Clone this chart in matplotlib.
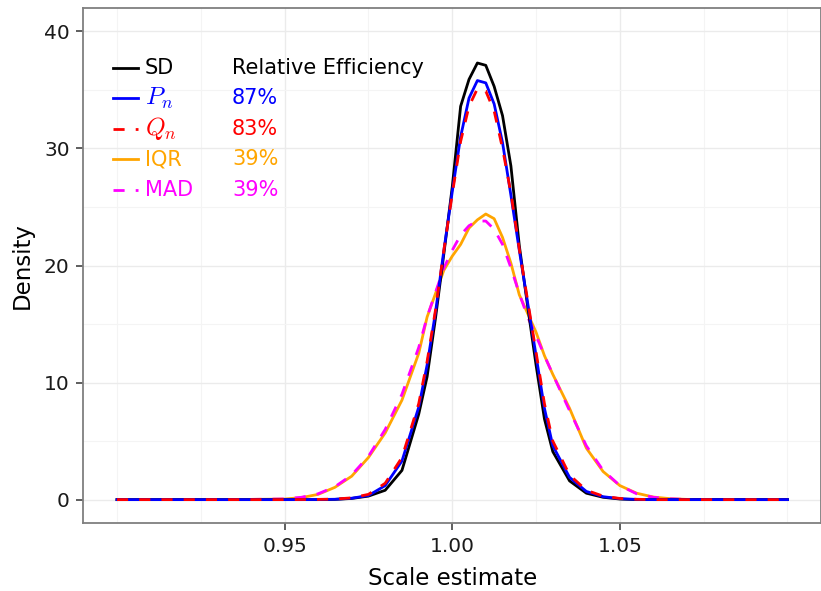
import numpy as np
import matplotlib
matplotlib.use('Agg')
import matplotlib.pyplot as plt
from matplotlib.lines import Line2D

plt.rcParams['font.family'] = ['DejaVu Sans']
plt.rcParams['mathtext.fontset'] = 'cm'

# scale estimate grid and density values
scale = [0.90, 0.94, 0.95, 0.955, 0.96, 0.965, 0.97, 0.975, 0.98, 0.985,
         0.99, 0.9925, 0.995, 0.9975, 1.000, 1.0025, 1.005, 1.0075, 1.010,
         1.0125, 1.015, 1.0175, 1.020, 1.0225, 1.025, 1.0275, 1.030, 1.035,
         1.040, 1.045, 1.050, 1.055, 1.060, 1.065, 1.070, 1.080, 1.10]

sd = [0, 0, 0, 0, 0, 0.02, 0.1, 0.3, 0.8, 2.5,
      7.3, 10.5, 15.5, 21.0, 26.7, 33.6, 35.9, 37.3, 37.1,
      35.3, 32.8, 28.5, 21.7, 16.5, 11.5, 6.9, 4.1, 1.6,
      0.55, 0.2, 0.05, 0, 0, 0, 0, 0, 0]

pn = [0, 0, 0, 0, 0.01, 0.03, 0.12, 0.35, 1.2, 3.3,
      7.9, 11.5, 16.0, 21.3, 26.3, 31.0, 34.3, 35.8, 35.6,
      33.8, 30.5, 26.0, 21.3, 16.8, 12.3, 7.8, 4.6, 1.9,
      0.7, 0.25, 0.08, 0.02, 0, 0, 0, 0, 0]

qn = [0, 0, 0, 0.01, 0.02, 0.05, 0.15, 0.45, 1.4, 3.6,
      8.2, 11.8, 16.2, 21.3, 26.1, 30.6, 33.6, 35.1, 34.9,
      33.2, 30.0, 26.2, 21.4, 17.0, 12.6, 8.2, 5.0, 2.1,
      0.8, 0.3, 0.1, 0.03, 0, 0, 0, 0, 0]

iqr = [0, 0.02, 0.05, 0.17, 0.45, 1.05, 2.0, 3.6, 5.7, 8.5,
       12.5, 15.6, 17.6, 19.6, 20.8, 21.8, 23.2, 23.9, 24.4,
       24.0, 22.4, 20.2, 17.5, 15.9, 14.3, 12.3, 10.7, 7.8,
       4.4, 2.4, 1.2, 0.55, 0.22, 0.08, 0.02, 0, 0]

mad = [0, 0.02, 0.06, 0.2, 0.5, 1.1, 2.1, 3.7, 6.0, 9.0,
       13.0, 15.6, 17.7, 19.8, 21.3, 22.6, 23.4, 23.8, 23.8,
       23.1, 21.8, 19.8, 17.6, 15.6, 14.0, 12.3, 10.7, 7.6,
       4.6, 2.5, 1.2, 0.5, 0.2, 0.07, 0.02, 0, 0]

labels = ['SD', '$P_n$', '$Q_n$', 'IQR', 'MAD']
efficiency = ['Relative Efficiency', '87%', '83%', '39%', '39%']
colors = ['black', '#0000FF', '#FF0000', '#FFA500', '#FF00FF']
dashed = [False, False, True, False, True]

fig = plt.figure(figsize=(8.21, 5.91), dpi=100)
ax = fig.add_axes([0.1017, 0.115, 0.8983, 0.8715])

series = [sd, pn, qn, iqr, mad]
# draw order: iqr/mad first, then sd, pn, qn on top
for i in [3, 4, 0, 1, 2]:
    ls = (0, (4, 4)) if dashed[i] else '-'
    ax.plot(scale, series[i], color=colors[i], lw=2.0, ls=ls, zorder=3)

ax.set_xlim(0.89, 1.11)
ax.set_ylim(-2, 42)
ax.set_xticks([0.95, 1.00, 1.05])
ax.set_xticklabels(['0.95', '1.00', '1.05'])
ax.set_xticks([0.90, 0.925, 0.975, 1.025, 1.075, 1.10], minor=True)
ax.set_yticks([0, 10, 20, 30, 40])
ax.set_yticks([5, 15, 25, 35], minor=True)
ax.tick_params(which='major', labelsize=14.5, length=5, width=1.1, color='#333333',
               labelcolor='#1a1a1a', pad=5)
ax.tick_params(which='minor', length=0)

ax.grid(which='major', color='#EBEBEB', lw=1.0, zorder=0)
ax.grid(which='minor', color='#F4F4F4', lw=0.8, zorder=0)
ax.set_axisbelow(True)
for s in ax.spines.values():
    s.set_color('#7F7F7F')
    s.set_linewidth(1.3)

ax.set_xlabel('Scale estimate', fontsize=16.5, labelpad=8)
ax.set_ylabel('Density', fontsize=16.5, labelpad=7)

# legend drawn as a small table in the top left corner
y0 = 0.8835
dy = 0.0592
for i in range(5):
    y = y0 - i * dy
    ls = (0, (4, 4)) if dashed[i] else '-'
    ax.add_line(Line2D([0.040, 0.074], [y, y], transform=ax.transAxes,
                       color=colors[i], lw=2.0, ls=ls))
    fs = 18 if labels[i].startswith('$') else 15
    ax.text(0.083, y, labels[i], transform=ax.transAxes, color=colors[i],
            fontsize=fs, va='center', ha='left')
    ax.text(0.2014, y, efficiency[i], transform=ax.transAxes, color=colors[i],
            fontsize=15, va='center', ha='left')

fig.savefig('out.png', dpi=100)
